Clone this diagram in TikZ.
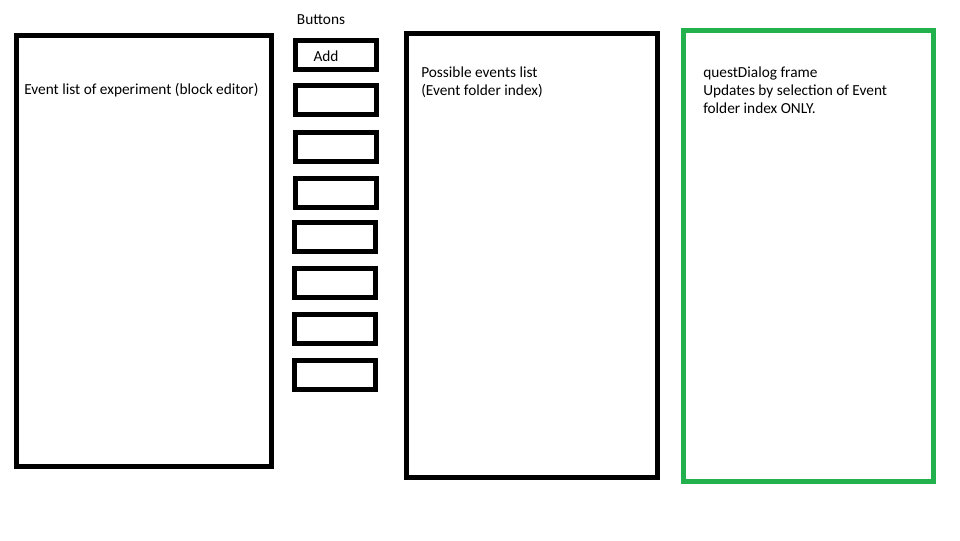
\documentclass[tikz,border=0pt]{standalone}
\usepackage{fontspec}
\setmainfont{Carlito}
\definecolor{paintgreen}{RGB}{34,177,76}
\begin{document}
\begin{tikzpicture}[x=0.75pt,y=-0.75pt,
  frame/.style={draw=black,line width=3.75pt,inner sep=0pt,outer sep=0pt},
  btn/.style={frame,minimum width=60.75pt,minimum height=21.75pt},
  txt/.style={font=\fontsize{11.5}{13.5}\selectfont,align=left,inner sep=0pt,anchor=west}]
\useasboundingbox (0,0) rectangle (960,540);
\fill[white] (0,0) rectangle (960,540);
% big frames
\node[frame,minimum width=191.25pt,minimum height=323.25pt] (events) at (143.5,250.5) {};
\node[frame,minimum width=188.25pt,minimum height=333pt] (possible) at (531.5,255) {};
\node[frame,draw=paintgreen,minimum width=187.5pt,minimum height=338.25pt] (quest) at (808.5,255.5) {};
% buttons
\node[txt,anchor=center] (btnlbl) at (321,19.5) {Buttons};
\node[btn] (b1) at (335.5,55) {};
\node[btn] (b2) at (335.5,100) {};
\node[btn] (b3) at (335.5,147) {};
\node[btn] (b4) at (335.5,193) {};
\node[btn] (b5) at (334.5,237) {};
\node[btn] (b6) at (334.5,283) {};
\node[btn] (b7) at (334.5,329) {};
\node[btn] (b8) at (334.5,375) {};
\node[txt,anchor=center] (addlbl) at (326,56.5) {Add};
% texts
\node[txt] (eventstxt) at (24,90.5) {Event list of experiment (block editor)};
\node[txt] (possibletxt) at (421,82.5) {Possible events list\\(Event folder index)};
\node[txt] (questtxt) at (703,90.5) {questDialog frame\\Updates by selection of Event\\folder index ONLY.};
\end{tikzpicture}
\end{document}
